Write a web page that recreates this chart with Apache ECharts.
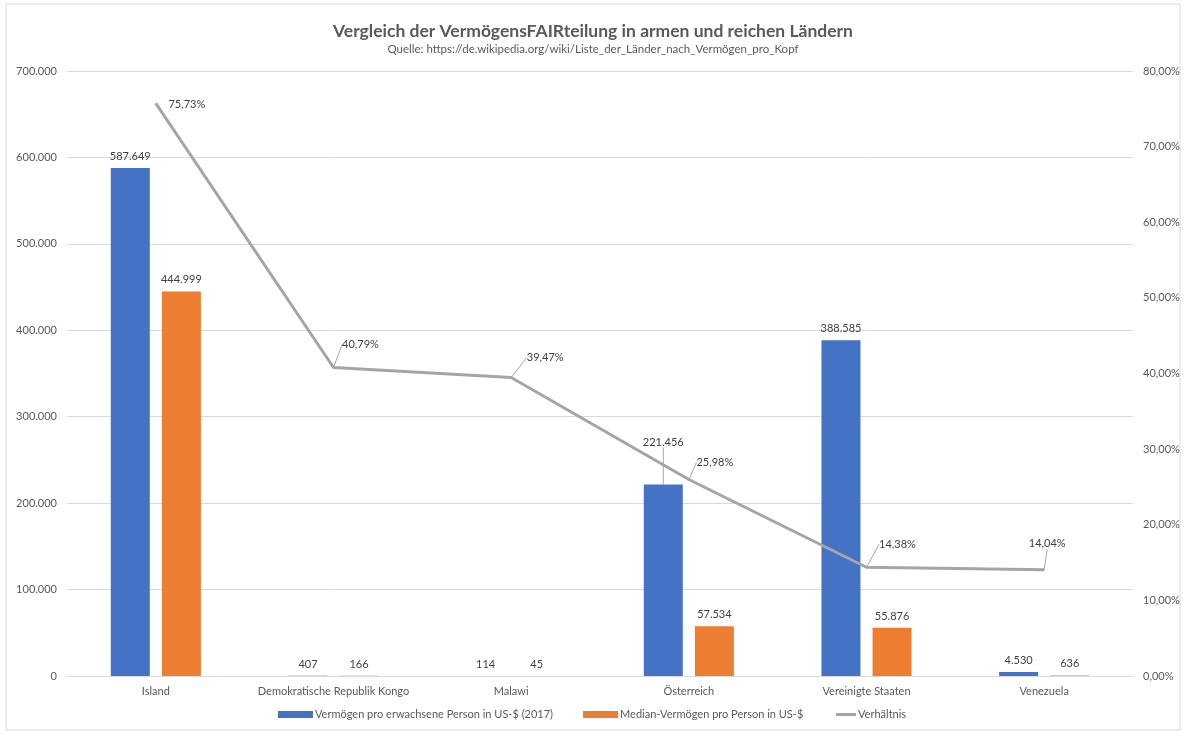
<!DOCTYPE html>
<html>
<head>
<meta charset="utf-8">
<script src="https://cdn.jsdelivr.net/npm/echarts@6/dist/echarts.min.js"></script>
<style>
html,body{margin:0;padding:0;background:#fff;}
#chart{width:1186px;height:735px;}
</style>
</head>
<body>
<div id="chart"></div>
<script>
var laender = ['Island', 'Demokratische Republik Kongo', 'Malawi', 'Österreich', 'Vereinigte Staaten', 'Venezuela'];
var vermoegen = [587649, 407, 114, 221456, 388585, 4530];
var median = [444999, 166, 45, 57534, 55876, 636];
var verhaeltnis = [75.73, 40.79, 39.47, 25.98, 14.38, 14.04];

//Zahlen deutsch formatieren
function tausender(v){
	return String(Math.round(v)).replace(/\B(?=(\d{3})+(?!\d))/g, '.');
}
function prozent(v){
	return v.toFixed(2).replace('.', ',') + '%';
}

var schrift = 'Lato';
var grau = '#595959';

//Verschiebung der Beschriftungen (wie in Excel von Hand verschoben)
var linieVersatz = [[31, 12], [27, -12], [34, -9], [26, -6], [31, -12], [3, -15]];
var linieFuehrung = [false, true, true, true, true, true];
var balkenVersatz = [[0, 0], [0, 0], [0, 0], [0, -31], [0, 0], [0, 0]];
var balkenFuehrung = [false, false, false, true, false, false];

var labelLinie = {color: '#a6a6a6', width: 1};

var chart = echarts.init(document.getElementById('chart'));
var option = {
	backgroundColor: '#fff',
	animation: false,
	textStyle: {fontFamily: schrift},
	title: {
		text: 'Vergleich der VermögensFAIRteilung in armen und reichen Ländern',
		subtext: 'Quelle: https://de.wikipedia.org/wiki/Liste_der_Länder_nach_Vermögen_pro_Kopf',
		left: 'center',
		top: 17,
		itemGap: 3,
		textStyle: {fontFamily: schrift, fontSize: 17.5, fontWeight: 'bold', color: grau},
		subtextStyle: {fontFamily: schrift, fontSize: 11.5, color: grau}
	},
	legend: [{
		bottom: 10,
		left: 273,
		itemWidth: 35,
		itemHeight: 7,
		itemGap: 30,
		textStyle: {fontFamily: schrift, fontSize: 11, color: grau, padding: [0, 0, 0, -3]},
		icon: 'rect',
		data: ['Vermögen pro erwachsene Person in US-$ (2017)', 'Median-Vermögen pro Person in US-$']
	}, {
		bottom: 10,
		left: 831,
		itemWidth: 20,
		itemHeight: 3,
		textStyle: {fontFamily: schrift, fontSize: 11, color: grau, padding: [0, 0, 0, -3]},
		icon: 'rect',
		data: ['Verhältnis']
	}],
	grid: {left: 67, right: 53, top: 71, bottom: 59},
	xAxis: {
		type: 'category',
		data: laender,
		axisTick: {show: false},
		axisLine: {lineStyle: {color: '#d9d9d9'}},
		axisLabel: {fontFamily: schrift, fontSize: 11, color: grau, margin: 10, interval: 0}
	},
	yAxis: [{
		type: 'value',
		min: 0,
		max: 700000,
		interval: 100000,
		axisLabel: {fontFamily: schrift, fontSize: 11, color: grau, margin: 10, formatter: tausender},
		splitLine: {lineStyle: {color: '#d9d9d9'}},
		axisLine: {show: false}
	}, {
		type: 'value',
		min: 0,
		max: 80,
		interval: 10,
		axisLabel: {fontFamily: schrift, fontSize: 11, color: grau, margin: 10, formatter: prozent},
		splitLine: {show: false},
		axisLine: {show: false}
	}],
	series: [{
		name: 'Vermögen pro erwachsene Person in US-$ (2017)',
		type: 'bar',
		barWidth: 39,
		barGap: '31%',
		data: vermoegen.map(function(v, i){
			return {value: v, labelLine: {show: balkenFuehrung[i]}};
		}),
		itemStyle: {color: '#4472c4'},
		label: {
			show: true,
			position: 'top',
			distance: 6,
			fontFamily: schrift,
			fontSize: 11,
			color: '#404040',
			formatter: function(p){ return tausender(p.value); }
		},
		labelLine: {lineStyle: labelLinie},
		labelLayout: function(p){
			return {dx: balkenVersatz[p.dataIndex][0], dy: balkenVersatz[p.dataIndex][1]};
		}
	}, {
		name: 'Median-Vermögen pro Person in US-$',
		type: 'bar',
		barWidth: 39,
		data: median,
		itemStyle: {color: '#ed7d31'},
		label: {
			show: true,
			position: 'top',
			distance: 6,
			fontFamily: schrift,
			fontSize: 11,
			color: '#404040',
			formatter: function(p){ return tausender(p.value); }
		}
	}, {
		name: 'Verhältnis',
		type: 'line',
		yAxisIndex: 1,
		data: verhaeltnis.map(function(v, i){
			return {value: v, labelLine: {show: linieFuehrung[i]}};
		}),
		symbol: 'circle',
		symbolSize: 1,
		showSymbol: true,
		lineStyle: {color: '#a5a5a5', width: 3},
		itemStyle: {color: '#a5a5a5'},
		label: {
			show: true,
			position: 'top',
			distance: 5,
			fontFamily: schrift,
			fontSize: 11,
			color: '#404040',
			formatter: function(p){ return prozent(p.value); }
		},
		labelLine: {lineStyle: labelLinie},
		labelLayout: function(p){
			return {dx: linieVersatz[p.dataIndex][0], dy: linieVersatz[p.dataIndex][1]};
		}
	}],
	graphic: [{
		type: 'rect',
		shape: {x: 6, y: 4, width: 1174, height: 726},
		style: {fill: 'none', stroke: '#d9d9d9', lineWidth: 1},
		silent: true
	}]
};
chart.setOption(option);
</script>
</body>
</html>
